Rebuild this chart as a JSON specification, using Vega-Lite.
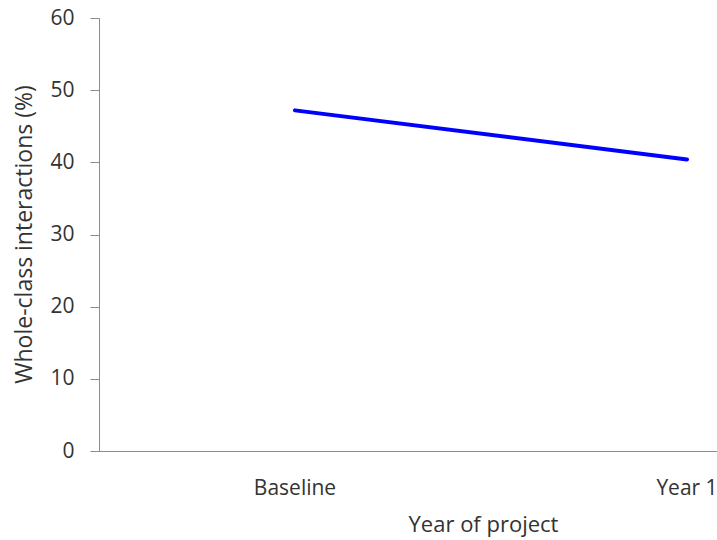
{
  "$schema": "https://vega.github.io/schema/vega-lite/v6.json",
  "autosize": "none",
  "width": 618,
  "height": 433,
  "padding": {"left": 99, "top": 18, "right": 0, "bottom": 89},
  "background": "white",
  "config": {
    "view": {"stroke": null},
    "font": "Open Sans",
    "axis": {"domainColor": "#8c8c8c", "tickColor": "#8c8c8c", "labelColor": "#333333", "titleColor": "#333333", "labelFont": "Open Sans", "titleFont": "Open Sans", "titleFontWeight": "normal", "grid": false}
  },
  "data": {"values": [
    {"year": "Baseline", "pct": 47.2},
    {"year": "Year 1", "pct": 40.4}
  ]},
  "mark": {"type": "line", "color": "#0000ff", "strokeWidth": 4, "strokeCap": "round", "clip": false},
  "encoding": {
    "x": {
      "field": "year", "type": "ordinal", "sort": null,
      "scale": {"type": "band", "range": [0, 784], "paddingInner": 0, "paddingOuter": 0},
      "axis": {"title": "Year of project", "labelAngle": 0, "ticks": false, "labelPadding": 26, "labelFontSize": 21, "titleFontSize": 22, "titleX": 384, "titleY": 73, "titleBaseline": "middle", "domainWidth": 1}
    },
    "y": {
      "field": "pct", "type": "quantitative",
      "scale": {"domain": [0, 60], "nice": false},
      "axis": {"title": "Whole-class interactions (%)", "values": [0, 10, 20, 30, 40, 50, 60], "tickSize": 9, "labelPadding": 16, "labelFontSize": 21, "titleFontSize": 23, "titleX": -75, "titleY": 216, "titleAlign": "center", "titleBaseline": "middle", "domainWidth": 1}
    }
  }
}
